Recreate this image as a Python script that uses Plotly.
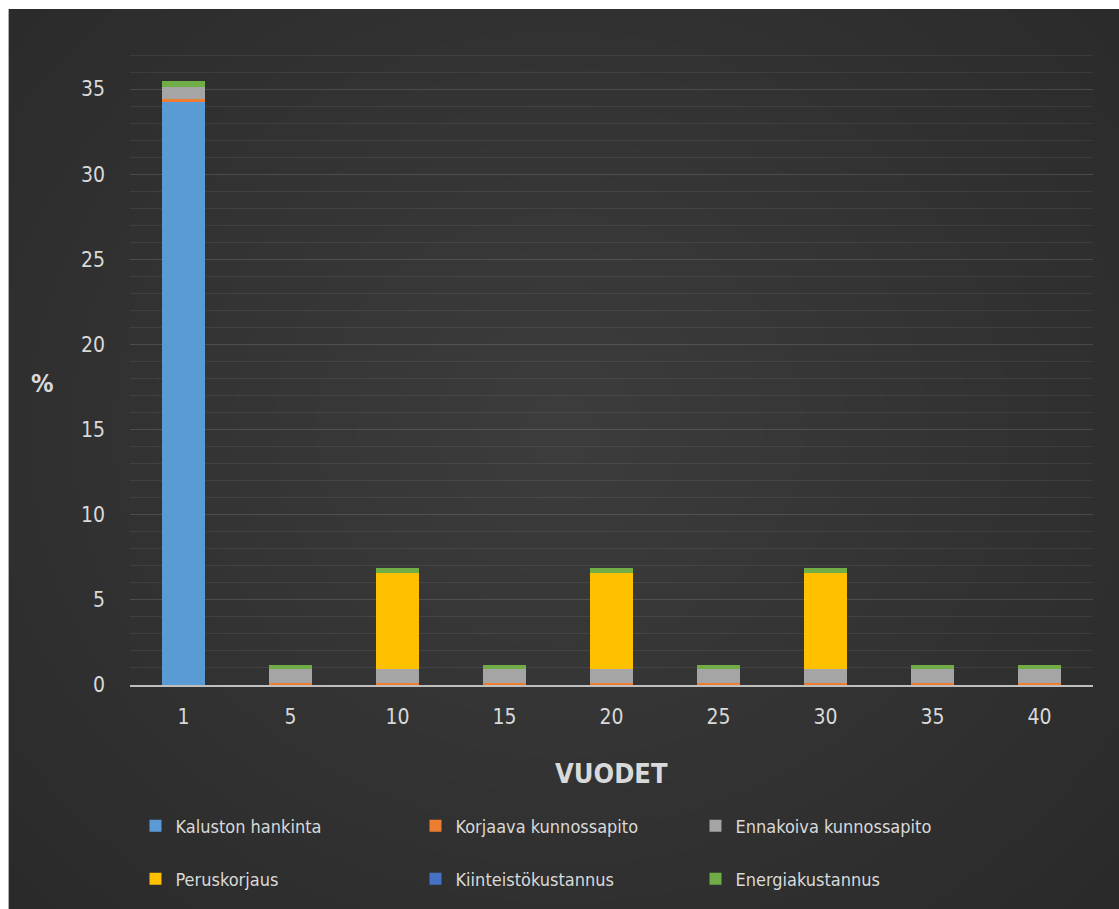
import plotly.graph_objects as go

years = ["1", "5", "10", "15", "20", "25", "30", "35", "40"]
kaluston = [34.25, 0, 0, 0, 0, 0, 0, 0, 0]
korjaava = [0.15, 0.1, 0.1, 0.1, 0.1, 0.1, 0.1, 0.1, 0.1]
ennakoiva = [0.75, 0.85, 0.85, 0.85, 0.85, 0.85, 0.85, 0.85, 0.85]
peruskorjaus = [0, 0, 5.65, 0, 5.65, 0, 5.65, 0, 0]
kiinteisto = [0, 0, 0, 0, 0, 0, 0, 0, 0]
energia = [0.3, 0.25, 0.3, 0.25, 0.3, 0.25, 0.3, 0.25, 0.25]

series = [
    ("Kaluston hankinta", kaluston, "#5B9BD5", "legend"),
    ("Korjaava kunnossapito", korjaava, "#ED7D31", "legend"),
    ("Ennakoiva kunnossapito", ennakoiva, "#A5A5A5", "legend"),
    ("Peruskorjaus", peruskorjaus, "#FFC000", "legend2"),
    ("Kiinteistökustannus", kiinteisto, "#4472C4", "legend2"),
    ("Energiakustannus", energia, "#70AD47", "legend2"),
]

FONT = "DejaVu Sans Condensed, Liberation Sans Narrow, Roboto, Arial, sans-serif"
TXT = "#d9d9d9"

fig = go.Figure()
for name, vals, col, lg in series:
    fig.add_trace(go.Bar(x=years, y=vals, name=name, marker=dict(color=col, line=dict(width=0)),
                         legend=lg))

# pixel -> paper conversion
L, R, T, B = 129.5, 1093.5, 38, 685
W, H = R - L, B - T
def px(x):
    return (x - L) / W
def py(y):
    return (B - y) / H

shapes = [dict(type="rect", xref="paper", yref="paper", x0=px(8), x1=px(1130), y0=py(920), y1=py(9),
               fillcolor="#262626", line=dict(width=0), layer="below")]
n = 22
cx, cy = 560, 430
for i in range(n):
    f = 1 - i / n
    rx, ry = 900 * f, 800 * f
    shapes.append(dict(type="circle", xref="paper", yref="paper",
                       x0=px(cx - rx), x1=px(cx + rx), y0=py(cy + ry), y1=py(cy - ry),
                       fillcolor="rgba(255,255,255,0.009)", line=dict(width=0), layer="below"))

legend_common = dict(orientation="h", xanchor="left", yanchor="middle",
                     entrywidth=235, entrywidthmode="pixels", bgcolor="rgba(0,0,0,0)",
                     font=dict(size=18, color=TXT, family=FONT), itemwidth=30, traceorder="normal")

fig.update_layout(
    width=1119, height=909,
    margin=dict(l=L, r=1119 - R, t=T, b=909 - B),
    paper_bgcolor="white",
    plot_bgcolor="rgba(0,0,0,0)",
    barmode="stack",
    bargap=0.6,
    font=dict(family=FONT, color=TXT, size=18),
    shapes=shapes,
    showlegend=True,
    legend=dict(x=px(135), y=py(826), **legend_common),
    legend2=dict(x=px(135), y=py(879), **legend_common),
    annotations=[
        dict(text="<b>%</b>", x=px(42), y=py(383), xref="paper", yref="paper", showarrow=False,
             xanchor="center", yanchor="middle",
             font=dict(size=25, color=TXT, family=FONT)),
        dict(text="<b>VUODET</b>", x=0.5, y=py(773), xref="paper", yref="paper", showarrow=False,
             xanchor="center", yanchor="middle",
             font=dict(size=27, color=TXT, family=FONT)),
    ],
)
fig.update_xaxes(showgrid=False, showline=True, linecolor="#bfbfbf", linewidth=2,
                 ticks="", tickfont=dict(size=21, color=TXT), ticklabelstandoff=12)
fig.update_yaxes(range=[0, 38], dtick=5, tick0=0, showgrid=True,
                 gridcolor="rgba(255,255,255,0.13)", gridwidth=1,
                 minor=dict(dtick=1, showgrid=True, gridcolor="rgba(255,255,255,0.07)", gridwidth=1),
                 zeroline=False, ticks="", tickfont=dict(size=21, color=TXT), ticklabelstandoff=24)

fig.write_html("out.html")
